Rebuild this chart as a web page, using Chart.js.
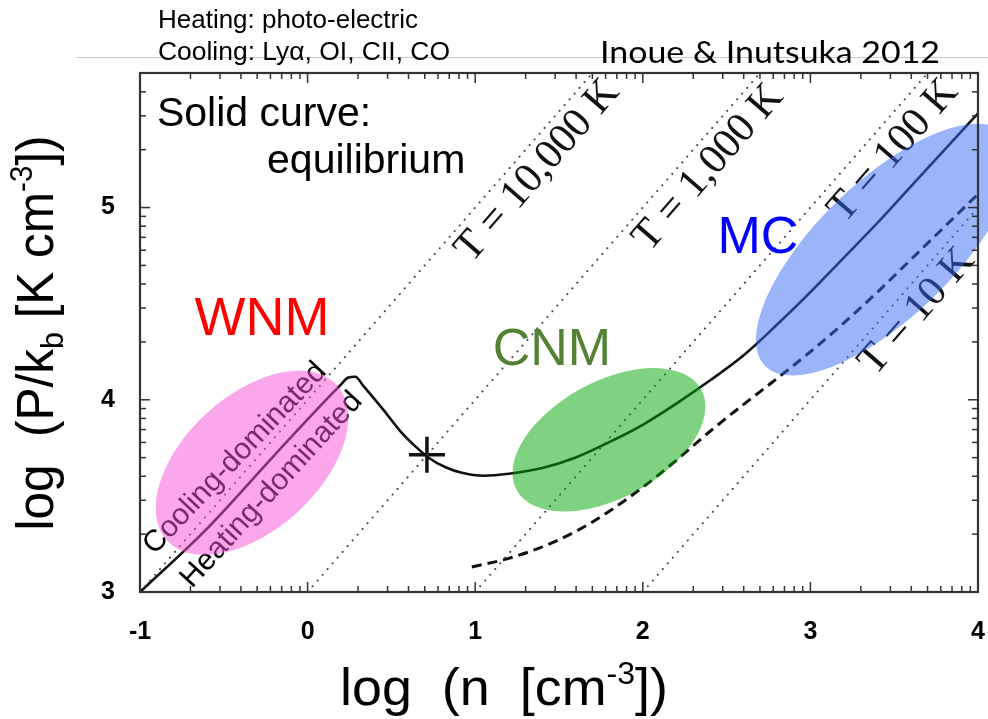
<!DOCTYPE html>
<html>
<head>
<meta charset="utf-8">
<script src="https://cdn.jsdelivr.net/npm/chart.js@4/dist/chart.umd.min.js"></script>
<style>
  html, body { margin: 0; padding: 0; background: #ffffff; }
  #wrap { width: 988px; height: 719px; position: relative; }
</style>
</head>
<body>
<div id="wrap"><canvas id="c" width="988" height="719"></canvas></div>
<script>
// ---------------- data ----------------
const X_TICKS = [-1, 0, 1, 2, 3, 4];
const Y_TICKS = [3, 4, 5];
const MINOR_K = [2, 3, 4, 5, 6, 7, 8, 9];

// equilibrium curve (solid)
const EQ_X = [-1.0, -0.6, -0.2, 0.1, 0.2, 0.24, 0.285, 0.33, 0.45, 0.55, 0.64, 0.72, 0.82, 0.92, 1.05, 1.2, 1.4, 1.6, 1.8, 2.0, 2.2, 2.4, 2.6, 2.8, 3.0, 3.2, 3.4, 3.6, 3.8, 4.0];
const EQ_Y = [3.0, 3.33, 3.71, 3.99, 4.08, 4.115, 4.12, 4.075, 3.95, 3.84, 3.76, 3.70, 3.65, 3.62, 3.605, 3.615, 3.645, 3.70, 3.78, 3.87, 3.98, 4.10, 4.23, 4.39, 4.56, 4.74, 4.92, 5.11, 5.30, 5.49];

// dashed curve
const DASH_X = [0.98, 1.2, 1.4, 1.6, 1.8, 2.0, 2.2, 2.4, 2.6, 2.8, 3.0, 3.2, 3.4, 3.6, 3.8, 4.0];
const DASH_Y = [3.13, 3.175, 3.235, 3.315, 3.42, 3.545, 3.685, 3.835, 3.975, 4.11, 4.25, 4.40, 4.56, 4.73, 4.90, 5.07];

// isotherms (dotted): end points in (log n, log P/k)
const ISO_LABELS = ['T = 10,000 K', 'T = 1,000 K', 'T = 100 K', 'T = 10 K'];
const ISO_X0 = [-1, 0, 1, 2];
const ISO_Y0 = [3, 3, 3, 3];
const ISO_X1 = [1.7, 2.7, 3.7, 4.0];
const ISO_Y1 = [5.7, 5.7, 5.7, 5.0];

// unstable point marker
const CROSS_X = [0.712];
const CROSS_Y = [3.714];

// phase regions (ellipses): centre, end of major semi-axis, end of minor semi-axis
const REGION_LABELS = ['WNM', 'CNM', 'MC'];
const ELL_CX = [-0.332, 1.798, 3.445];
const ELL_CY = [3.672, 3.792, 4.781];
const ELL_MAJ_X = [0.175, 2.349, 4.162];
const ELL_MAJ_Y = [4.076, 4.053, 5.385];
const ELL_MIN_X = [-0.062, 1.964, 3.727];
const ELL_MIN_Y = [3.414, 3.526, 4.527];

const SIDE_LABELS = ['Cooling-dominated', 'Heating-dominated'];
const NOTE_LINES = ['Solid curve:', 'equilibrium'];
const HEADER_LINES = ['Heating: photo-electric', 'Cooling: Lyα, OI, CII, CO'];
const CREDIT = 'Inoue & Inutsuka 2012';

// ---------------- layout / style ----------------
const SANS = '"Liberation Sans", Arial, sans-serif';
const SERIF = '"Liberation Serif", "Times New Roman", serif';
const LAYOUT = {
  isoLabelPos: [[1.372, 5.190], [2.392, 5.206], [3.496, 5.294], [3.636, 4.458]],
  regionLabelPos: [[-0.272, 4.417], [1.458, 4.255], [2.687, 4.839]],
  regionColors: ['#ff0000', '#548235', '#0000ff'],
  regionSizes: [54, 52, 52],
  ellipseFill: ['rgba(245,80,215,0.5)', 'rgba(0,165,0,0.5)', 'rgba(55,105,245,0.5)'],
  sidePos: [[-0.433, 3.695], [-0.215, 3.531]],
  sideAngle: [-46.6, -47.5],
  notePos: [[-0.899, 5.422], [-0.242, 5.182]],
};

const toPts = (xs, ys) => xs.map((x, i) => ({ x: x, y: ys[i] }));

const isoDatasets = ISO_LABELS.map((lab, i) => ({
  label: lab,
  data: [{ x: ISO_X0[i], y: ISO_Y0[i] }, { x: ISO_X1[i], y: ISO_Y1[i] }],
  showLine: true,
  borderColor: '#444',
  borderWidth: 2,
  borderDash: [0.1, 7.5],
  borderCapStyle: 'round',
  pointRadius: 0,
  fill: false,
}));

function P(chart, x, y) {
  return [chart.scales.x.getPixelForValue(x), chart.scales.y.getPixelForValue(y)];
}

function drawRich(ctx, parts, family, targetW) {
  let total = 0; const widths = [];
  for (const p of parts) { ctx.font = p[1] + 'px ' + family; const w = ctx.measureText(p[0]).width; widths.push(w); total += w; }
  const s = targetW ? targetW / total : 1;
  ctx.save();
  ctx.scale(s, 1);
  ctx.textAlign = 'left'; ctx.textBaseline = 'alphabetic';
  let x = -total / 2;
  parts.forEach((p, i) => { ctx.font = p[1] + 'px ' + family; ctx.fillText(p[0], x, p[2]); x += widths[i]; });
  ctx.restore();
}

function fitText(ctx, text, x, y, targetW) {
  const w = ctx.measureText(text).width;
  const s = targetW ? targetW / w : 1;
  ctx.save(); ctx.translate(x, y); ctx.scale(s, 1); ctx.fillText(text, 0, 0); ctx.restore();
}

const decorPlugin = {
  id: 'decor',
  beforeDraw(chart) {
    const ctx = chart.ctx;
    ctx.save();
    ctx.fillStyle = '#fff';
    ctx.fillRect(0, 0, chart.width, chart.height);
    ctx.strokeStyle = '#c8c8c8'; ctx.lineWidth = 1;
    ctx.beginPath(); ctx.moveTo(76, 57.5); ctx.lineTo(988, 57.5); ctx.stroke();
    ctx.fillStyle = '#000';
    ctx.textAlign = 'left'; ctx.textBaseline = 'alphabetic';
    ctx.font = '25px ' + SANS;
    fitText(ctx, HEADER_LINES[0], 158, 28, 260);
    fitText(ctx, HEADER_LINES[1], 158, 60, 292);
    ctx.font = '30px Lato, "Open Sans", sans-serif';
    fitText(ctx, CREDIT, 600, 63, 340);
    ctx.restore();
  },
  afterDatasetsDraw(chart) {
    const ctx = chart.ctx;
    ctx.save();
    ctx.fillStyle = '#111';
    ctx.textAlign = 'center'; ctx.textBaseline = 'middle';
    ctx.font = '42px ' + SERIF;
    ISO_LABELS.forEach((lab, i) => {
      const a = P(chart, ISO_X0[i], ISO_Y0[i]);
      const b = P(chart, ISO_X1[i], ISO_Y1[i]);
      const ang = Math.atan2(b[1] - a[1], b[0] - a[0]);
      const c = P(chart, LAYOUT.isoLabelPos[i][0], LAYOUT.isoLabelPos[i][1]);
      ctx.save(); ctx.translate(c[0], c[1]); ctx.rotate(ang); ctx.fillText(lab, 0, 0); ctx.restore();
    });
    ctx.fillStyle = '#000';
    ctx.font = '30px ' + SANS;
    SIDE_LABELS.forEach((lab, i) => {
      const c = P(chart, LAYOUT.sidePos[i][0], LAYOUT.sidePos[i][1]);
      ctx.save(); ctx.translate(c[0], c[1]); ctx.rotate(LAYOUT.sideAngle[i] * Math.PI / 180); ctx.fillText(lab, 0, 0); ctx.restore();
    });
    REGION_LABELS.forEach((lab, i) => {
      const c = P(chart, ELL_CX[i], ELL_CY[i]);
      const m = P(chart, ELL_MAJ_X[i], ELL_MAJ_Y[i]);
      const n = P(chart, ELL_MIN_X[i], ELL_MIN_Y[i]);
      const rx = Math.hypot(m[0] - c[0], m[1] - c[1]);
      const ry = Math.hypot(n[0] - c[0], n[1] - c[1]);
      const ang = Math.atan2(m[1] - c[1], m[0] - c[0]);
      ctx.fillStyle = LAYOUT.ellipseFill[i];
      ctx.beginPath(); ctx.ellipse(c[0], c[1], rx, ry, ang, 0, Math.PI * 2); ctx.fill();
    });
    ctx.textAlign = 'center'; ctx.textBaseline = 'middle';
    REGION_LABELS.forEach((lab, i) => {
      const c = P(chart, LAYOUT.regionLabelPos[i][0], LAYOUT.regionLabelPos[i][1]);
      ctx.fillStyle = LAYOUT.regionColors[i];
      ctx.font = LAYOUT.regionSizes[i] + 'px ' + SANS;
      ctx.fillText(lab, c[0], c[1]);
    });
    ctx.fillStyle = '#000';
    ctx.textAlign = 'left'; ctx.textBaseline = 'alphabetic';
    ctx.font = '41px ' + SANS;
    NOTE_LINES.forEach((t, i) => {
      const c = P(chart, LAYOUT.notePos[i][0], LAYOUT.notePos[i][1]);
      ctx.fillText(t, c[0], c[1]);
    });
    ctx.restore();
  },
  afterDraw(chart) {
    const ctx = chart.ctx;
    const a = chart.chartArea;
    const xs = chart.scales.x, ys = chart.scales.y;
    ctx.save();
    ctx.strokeStyle = '#333';
    ctx.lineWidth = 1.5;
    const tick = (x1, y1, x2, y2) => { ctx.beginPath(); ctx.moveTo(x1, y1); ctx.lineTo(x2, y2); ctx.stroke(); };
    const xVals = [], yVals = [];
    for (let d = Math.floor(xs.min); d < xs.max; d++) {
      xVals.push([d, 10]);
      MINOR_K.forEach(k => { const v = d + Math.log10(k); if (v < xs.max) xVals.push([v, 6]); });
    }
    xVals.push([xs.max, 10]);
    for (let d = Math.floor(ys.min); d < ys.max; d++) {
      yVals.push([d, 10]);
      MINOR_K.forEach(k => { const v = d + Math.log10(k); if (v <= ys.max + 1e-6) yVals.push([v, 6]); });
    }
    xVals.forEach(([v, L]) => {
      const p = xs.getPixelForValue(v);
      tick(p, a.bottom, p, a.bottom - L);
      tick(p, a.top, p, a.top + L);
    });
    yVals.forEach(([v, L]) => {
      const p = ys.getPixelForValue(v);
      tick(a.left, p, a.left + L, p);
      tick(a.right, p, a.right - L, p);
    });
    ctx.lineWidth = 2.2;
    ctx.strokeRect(a.left, a.top, a.right - a.left, a.bottom - a.top);
    ctx.fillStyle = '#000';
    ctx.save();
    ctx.translate((a.left + a.right) / 2 - 55, 705);
    drawRich(ctx, [['log  (n  [cm', 52, 0], ['-3', 31, -21], ['])', 52, 0]], SANS, 328);
    ctx.restore();
    ctx.save();
    ctx.translate(53, 333);
    ctx.rotate(-Math.PI / 2);
    drawRich(ctx, [['log  (P/k', 52, 0], ['b', 32, 10], [' [K cm', 52, 0], ['-3', 31, -21], ['])', 52, 0]], SANS, 395);
    ctx.restore();
    ctx.restore();
  }
};

new Chart(document.getElementById('c'), {
  type: 'scatter',
  data: {
    datasets: [
      ...isoDatasets,
      {
        label: 'equilibrium',
        data: toPts(EQ_X, EQ_Y),
        showLine: true,
        borderColor: '#111',
        borderWidth: 2.6,
        cubicInterpolationMode: 'monotone',
        pointRadius: 0,
        fill: false,
      },
      {
        label: 'dashed',
        data: toPts(DASH_X, DASH_Y),
        showLine: true,
        borderColor: '#111',
        borderWidth: 3,
        borderDash: [10, 6],
        cubicInterpolationMode: 'monotone',
        pointRadius: 0,
        fill: false,
      },
      {
        label: 'unstable point',
        data: toPts(CROSS_X, CROSS_Y),
        showLine: false,
        pointStyle: 'cross',
        pointRadius: 18,
        borderWidth: 3.5,
        borderColor: '#111',
        backgroundColor: '#111',
      },
    ],
  },
  options: {
    responsive: false,
    animation: false,
    devicePixelRatio: 1,
    layout: { autoPadding: false, padding: { top: 73, right: 10, left: 0, bottom: 0 } },
    plugins: { legend: { display: false }, tooltip: { enabled: false }, title: { display: false } },
    scales: {
      x: {
        type: 'linear', min: -1, max: 4,
        afterBuildTicks: s => { s.ticks = X_TICKS.map(v => ({ value: v })); },
        afterFit: s => { s.height = 127; s.paddingLeft = 0; s.paddingRight = 0; },
        grid: { display: false, drawTicks: false },
        border: { display: false },
        ticks: { color: '#000', padding: 25, maxRotation: 0, autoSkip: false, font: { family: SANS, size: 25, weight: 'bold' } },
      },
      y: {
        type: 'linear', min: 3, max: 5.7,
        afterBuildTicks: s => { s.ticks = Y_TICKS.map(v => ({ value: v })); },
        afterFit: s => { s.width = 140; s.paddingTop = 0; s.paddingBottom = 0; },
        grid: { display: false, drawTicks: false },
        border: { display: false },
        ticks: { color: '#000', padding: 25, autoSkip: false, font: { family: SANS, size: 25, weight: 'bold' } },
      },
    },
  },
  plugins: [decorPlugin],
});
</script>
</body>
</html>
